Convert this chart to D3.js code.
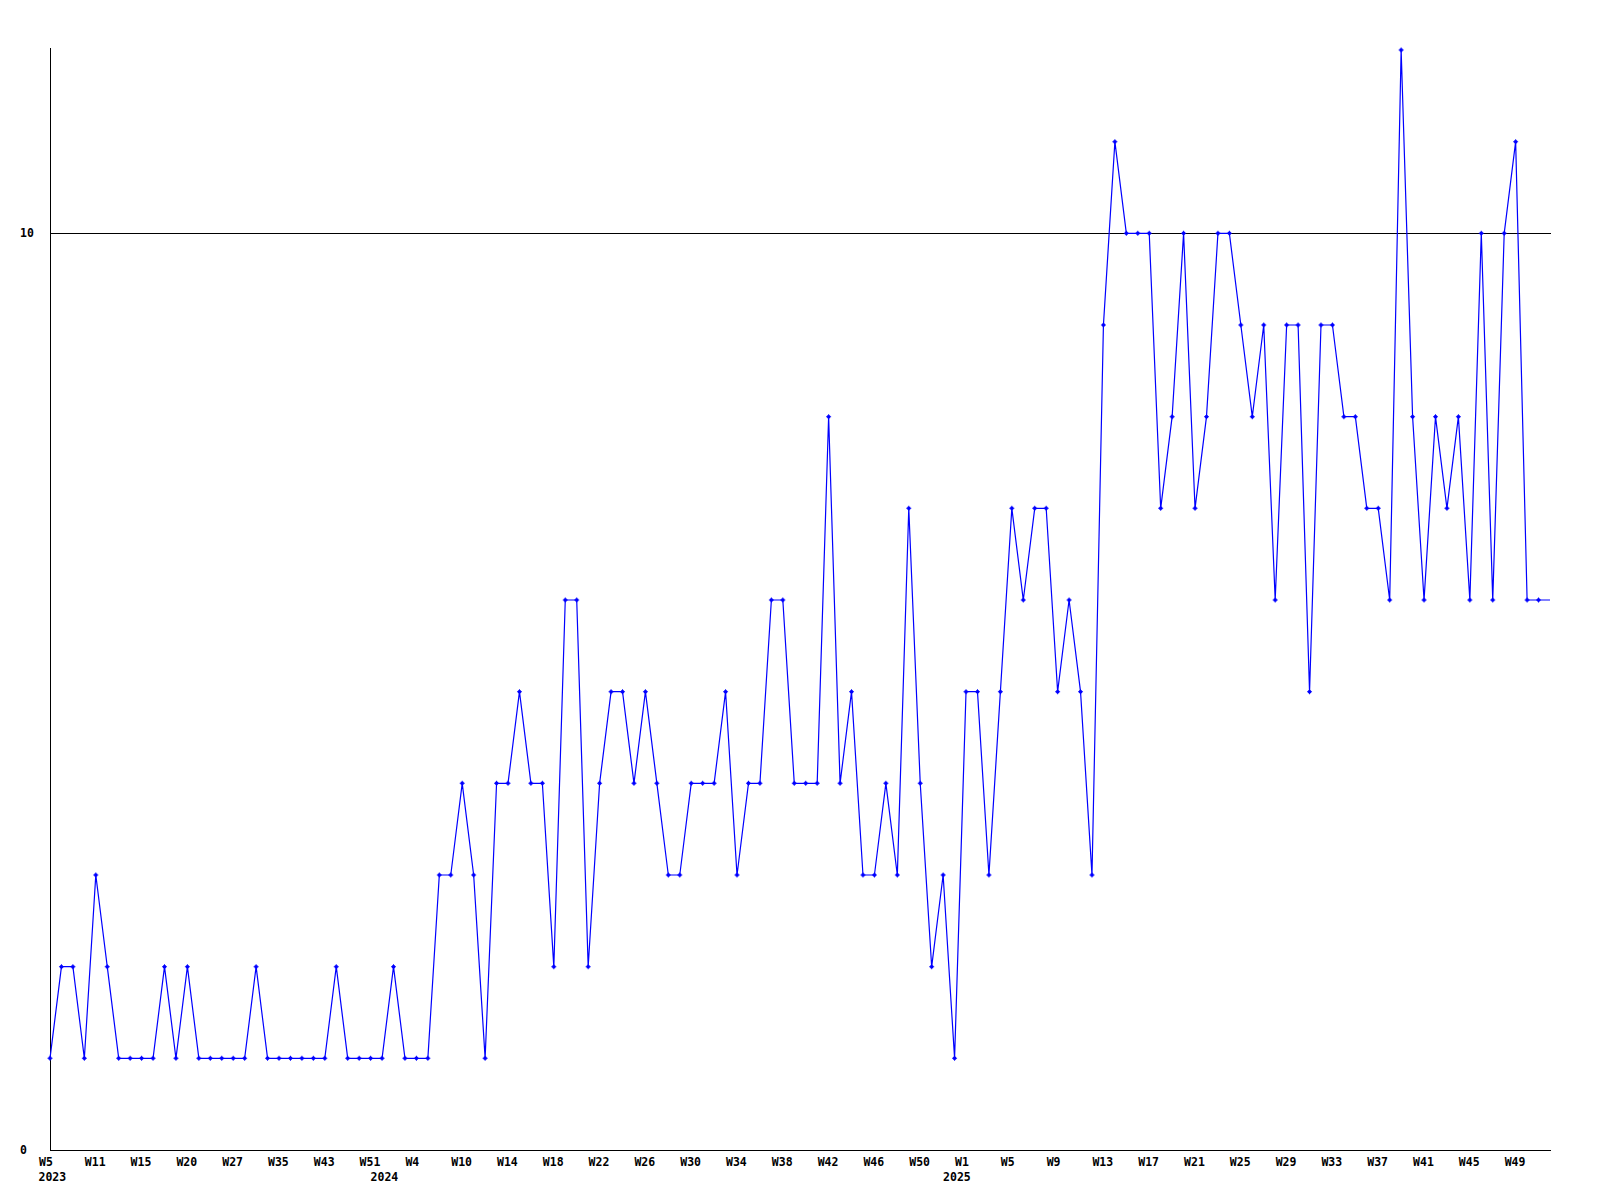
<!DOCTYPE html>
<html>
<head>
<meta charset="utf-8">
<script src="https://cdn.jsdelivr.net/npm/d3@7"></script>
<style>
  html, body { margin: 0; padding: 0; background: #ffffff; }
  svg { display: block; }
  text { font-family: "DejaVu Sans Mono", "Liberation Mono", monospace; font-weight: bold; font-size: 11.5px; fill: #000; }
</style>
</head>
<body>
<svg id="chart" width="1600" height="1200"></svg>
<script>
// ---- data ----
const values = [
  1, 2, 2, 1, 3, 2, 1, 1, 1, 1, 2, 1, 2, 1, 1, 1, 1, 1, 2, 1,
  1, 1, 1, 1, 1, 2, 1, 1, 1, 1, 2, 1, 1, 1, 3, 3, 4, 3, 1, 4,
  4, 5, 4, 4, 2, 6, 6, 2, 4, 5, 5, 4, 5, 4, 3, 3, 4, 4, 4, 5,
  3, 4, 4, 6, 6, 4, 4, 4, 8, 4, 5, 3, 3, 4, 3, 7, 4, 2, 3, 1,
  5, 5, 3, 5, 7, 6, 7, 7, 5, 6, 5, 3, 9, 11, 10, 10, 10, 7, 8, 10,
  7, 8, 10, 10, 9, 8, 9, 6, 9, 9, 5, 9, 9, 8, 8, 7, 7, 6, 12, 8,
  6, 8, 7, 8, 6, 10, 6, 10, 11, 6, 6, 6
];
const tickLabels = ["W5","W11","W15","W20","W27","W35","W43","W51","W4","W10","W14","W18",
  "W22","W26","W30","W34","W38","W42","W46","W50","W1","W5","W9","W13","W17","W21",
  "W25","W29","W33","W37","W41","W45","W49"];
const tickIndices = [0,4,8,12,16,20,24,28,32,36,40,44,48,52,56,60,64,68,72,76,80,84,88,92,96,100,104,108,112,116,120,124,128];
const yearLabels = ["2023","2024","2025"];
const yearIndices = [0, 29, 79];
const yTickValues = [0, 10];
const yMax = 12;

// ---- layout ----
const mLeft = 50, mRight = 1550, mTop = 50, mBottom = 1150;
const svg = d3.select("#chart");

const x = d3.scaleLinear().domain([0, values.length - 1]).range([mLeft, mRight]);
const y = d3.scaleLinear().domain([0, yMax]).range([mBottom, mTop]);

// clip for markers (last point sits on the right edge and shows no marker)
svg.append("defs").append("clipPath").attr("id", "mclip")
  .append("rect").attr("x", 0).attr("y", 0).attr("width", mRight - 3).attr("height", 1200);

// grid line at 10
svg.append("g").selectAll("line").data(yTickValues.filter(v => v > 0)).join("line")
  .attr("x1", mLeft).attr("x2", mRight + 1)
  .attr("y1", d => Math.round(y(d)) + 0.5).attr("y2", d => Math.round(y(d)) + 0.5)
  .attr("stroke", "#000").attr("stroke-width", 1).attr("shape-rendering", "crispEdges");

// axes lines
svg.append("line").attr("x1", mLeft + 0.5).attr("x2", mLeft + 0.5).attr("y1", mTop - 2).attr("y2", mBottom + 1)
  .attr("stroke", "#000").attr("shape-rendering", "crispEdges");
svg.append("line").attr("x1", mLeft).attr("x2", mRight + 1).attr("y1", mBottom + 0.5).attr("y2", mBottom + 0.5)
  .attr("stroke", "#000").attr("shape-rendering", "crispEdges");

// y labels (left aligned)
svg.append("g").selectAll("text").data(yTickValues).join("text")
  .attr("x", 20).attr("y", d => y(d)).attr("dy", "0.35em")
  .attr("text-anchor", "start").text(d => d);

// x axis labels via d3 axis
const xAxis = d3.axisBottom(x)
  .tickValues(tickIndices)
  .tickFormat((d, i) => tickLabels[i])
  .tickSize(0).tickPadding(0);
const gx = svg.append("g").attr("transform", `translate(0,${mBottom})`).call(xAxis);
gx.select(".domain").remove();
gx.selectAll("text")
  .attr("text-anchor", "start").attr("dx", -11.5).attr("y", 16).attr("dy", 0)
  .attr("fill", "#000")
  .style("font-family", "'DejaVu Sans Mono', monospace").style("font-weight", "bold").style("font-size", "11.5px");

// year labels
svg.append("g").selectAll("text").data(yearLabels).join("text")
  .attr("x", (d, i) => x(yearIndices[i]) - 11.5).attr("y", mBottom + 31)
  .attr("text-anchor", "start").text(d => d);

// data line
const line = d3.line().x((d, i) => x(i)).y(d => y(d));
svg.append("path").datum(values)
  .attr("d", line).attr("fill", "none").attr("stroke", "#0000ff").attr("stroke-width", 1.2);

// markers (small plus)
const plus = "M-2.5,-0.5H-1.5V-1.5H-0.5V-2.5H0.5V-1.5H1.5V-0.5H2.5V0.5H1.5V1.5H0.5V2.5H-0.5V1.5H-1.5V0.5H-2.5Z";
svg.append("g").attr("clip-path", "url(#mclip)").selectAll("path").data(values).join("path")
  .attr("transform", (d, i) => `translate(${x(i)},${y(d)})`)
  .attr("d", plus).attr("fill", "#0000ff");
</script>
</body>
</html>
